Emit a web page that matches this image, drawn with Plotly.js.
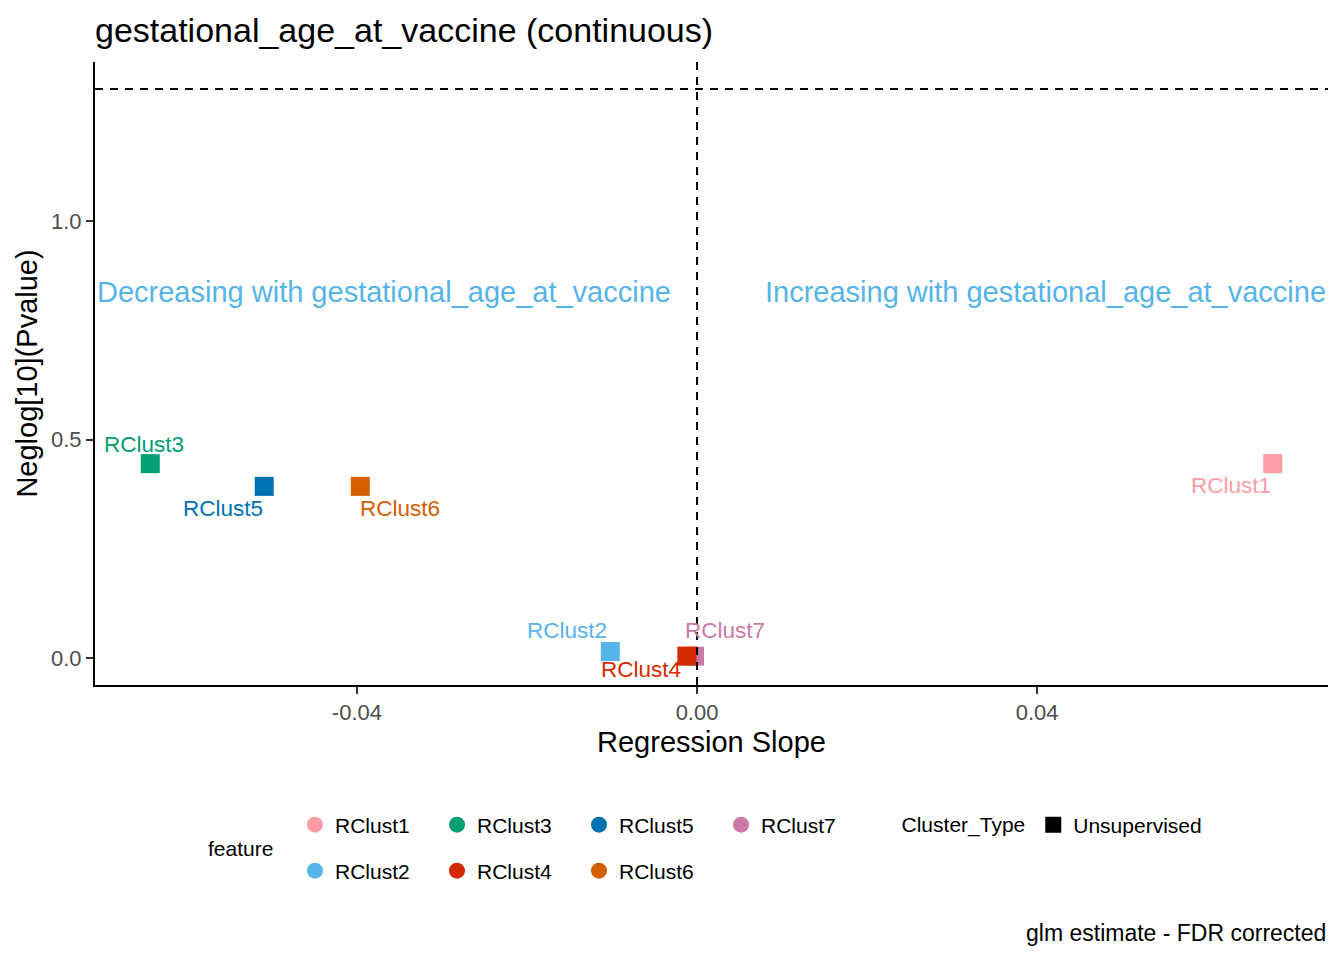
<!DOCTYPE html>
<html>
<head>
<meta charset="utf-8">
<script src="https://cdn.plot.ly/plotly-3.0.1.min.js"></script>
<style>
  html, body { margin: 0; padding: 0; background: #fff; }
  #chart { width: 1344px; height: 960px; }
</style>
</head>
<body>
<div id="chart"></div>
<script>
// values
var features = ['RClust1', 'RClust2', 'RClust3', 'RClust4', 'RClust5', 'RClust6', 'RClust7'];
var slopes = [0.0677, -0.0102, -0.0643, -0.0012, -0.0509, -0.0396, -0.0003];
var neglogP = [0.445, 0.0155, 0.445, 0.005, 0.393, 0.393, 0.005];
var featureColors = ['#FF9DA7', '#56B4E9', '#009E73', '#D42A00', '#0072B2', '#D55E00', '#CC79A7'];
var clusterTypes = ['Unsupervised'];
var pThreshold = 0.05;
var xTickVals = [-0.04, 0, 0.04];
var xTickText = ['-0.04', '0.00', '0.04'];
var yTickVals = [0, 0.5, 1];
var yTickText = ['0.0', '0.5', '1.0'];

var FONT = 'Liberation Sans, Arial, sans-serif';

// draw order: RClust4 sits on top of RClust7
var drawOrder = [0, 1, 2, 4, 5, 6, 3];

// label offsets (px, screen down positive), like ggrepel placed them
var labelShift = {
  RClust1: [-42, 22],
  RClust2: [-43, -21],
  RClust3: [-6, -19],
  RClust4: [-46, 13],
  RClust5: [-41, 22],
  RClust6: [40, 22],
  RClust7: [31, -26]
};

var traces = [];
traces.push({
  type: 'scatter',
  mode: 'markers',
  x: drawOrder.map(function(i) { return slopes[i]; }),
  y: drawOrder.map(function(i) { return neglogP[i]; }),
  marker: {
    symbol: 'square',
    size: 19,
    color: drawOrder.map(function(i) { return featureColors[i]; })
  },
  showlegend: false,
  hoverinfo: 'skip'
});

// legend entries (circles), two rows like the reference
for (var i = 0; i < features.length; i++) {
  traces.push({
    type: 'scatter',
    mode: 'markers',
    x: [null], y: [null],
    name: features[i],
    marker: { symbol: 'circle', size: 16, color: featureColors[i] },
    legend: (i % 2 === 0) ? 'legend' : 'legend2',
    legendrank: i
  });
}
traces.push({
  type: 'scatter',
  mode: 'markers',
  x: [null], y: [null],
  name: clusterTypes[0],
  marker: { symbol: 'square', size: 16, color: '#000000' },
  legend: 'legend3'
});

var annotations = features.map(function(f, i) {
  return {
    x: slopes[i], y: neglogP[i], xref: 'x', yref: 'y',
    text: f, showarrow: false,
    xanchor: 'center', yanchor: 'middle',
    xshift: labelShift[f][0], yshift: -labelShift[f][1],
    font: { family: FONT, size: 22.5, color: featureColors[i] }
  };
});

annotations.push({
  xref: 'paper', x: 0, xanchor: 'left',
  yref: 'y', y: 0.837, yanchor: 'middle',
  text: 'Decreasing with gestational_age_at_vaccine', showarrow: false,
  font: { family: FONT, size: 29, color: '#56B4E9' }
});
annotations.push({
  xref: 'paper', x: 1, xanchor: 'right',
  yref: 'y', y: 0.837, yanchor: 'middle',
  text: 'Increasing with gestational_age_at_vaccine', showarrow: false,
  font: { family: FONT, size: 29, color: '#56B4E9' }
});
annotations.push({
  xref: 'paper', x: 0.1184, xanchor: 'center',
  yref: 'paper', y: -0.2632, yanchor: 'middle',
  text: 'feature', showarrow: false,
  font: { family: FONT, size: 21, color: '#000000' }
});
annotations.push({
  xref: 'paper', x: 1, xanchor: 'right',
  yref: 'paper', y: -0.398, yanchor: 'middle',
  text: 'glm estimate - FDR corrected', showarrow: false,
  font: { family: FONT, size: 23, color: '#000000' }
});

var dashLine = { color: '#000000', width: 2, dash: '8px,7px' };
var threshold = -Math.log10(pThreshold);

var legendBase = {
  orientation: 'h',
  xanchor: 'left', yanchor: 'middle',
  entrywidth: 97, entrywidthmode: 'pixels',
  font: { family: FONT, size: 21, color: '#000000' },
  bgcolor: 'rgba(0,0,0,0)', borderwidth: 0
};

var layout = {
  width: 1344, height: 960,
  margin: { l: 95, r: 16, t: 62, b: 275 },
  paper_bgcolor: '#ffffff', plot_bgcolor: '#ffffff',
  font: { family: FONT },
  title: {
    text: 'gestational_age_at_vaccine (continuous)',
    font: { family: FONT, size: 34, color: '#000000' },
    xref: 'paper', x: 0, xanchor: 'left',
    yref: 'container', y: 0.969, yanchor: 'middle'
  },
  xaxis: {
    range: [-0.0708, 0.0742],
    tickvals: xTickVals, ticktext: xTickText,
    showgrid: false, zeroline: false,
    showline: true, linecolor: '#000000', linewidth: 2,
    ticks: 'outside', ticklen: 7, tickwidth: 2, tickcolor: '#333333',
    tickfont: { family: FONT, size: 22, color: '#4D4D4D' },
    title: { text: 'Regression Slope', standoff: 7,
             font: { family: FONT, size: 29, color: '#000000' } }
  },
  yaxis: {
    range: [-0.061, 1.363],
    tickvals: yTickVals, ticktext: yTickText,
    showgrid: false, zeroline: false,
    showline: true, linecolor: '#000000', linewidth: 2,
    ticks: 'outside', ticklen: 7, tickwidth: 2, tickcolor: '#333333',
    tickfont: { family: FONT, size: 22, color: '#4D4D4D' },
    title: { text: 'Neglog[10](Pvalue)', standoff: 5,
             font: { family: FONT, size: 29, color: '#000000' } }
  },
  shapes: [
    { type: 'line', xref: 'paper', x0: 0, x1: 1, yref: 'y', y0: threshold, y1: threshold, line: dashLine },
    { type: 'line', xref: 'x', x0: 0, x1: 0, yref: 'paper', y0: 0, y1: 1, line: dashLine }
  ],
  annotations: annotations,
  legend: Object.assign({}, legendBase, { x: 0.1622, y: -0.2247 }),
  legend2: Object.assign({}, legendBase, { x: 0.1622, y: -0.2986 }),
  legend3: {
    orientation: 'h',
    xanchor: 'left', yanchor: 'middle',
    x: 0.6525, y: -0.2247,
    font: { family: FONT, size: 21, color: '#000000' },
    bgcolor: 'rgba(0,0,0,0)', borderwidth: 0,
    title: { text: 'Cluster_Type', side: 'left', font: { family: FONT, size: 21, color: '#000000' } }
  },
  hovermode: false
};

Plotly.newPlot('chart', traces, layout, { displayModeBar: false, staticPlot: true });
</script>
</body>
</html>
